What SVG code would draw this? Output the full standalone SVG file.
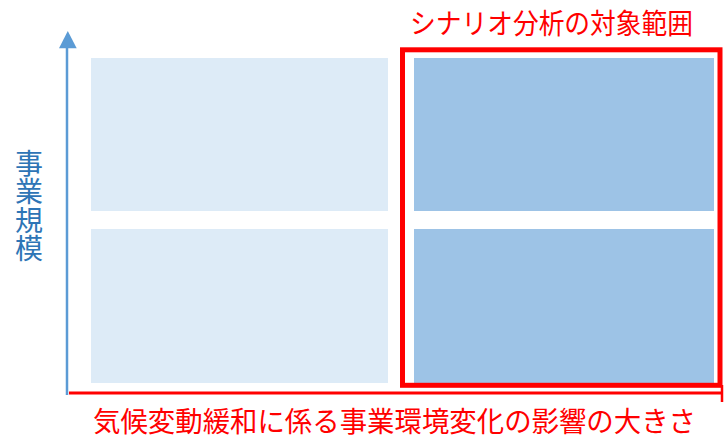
<svg xmlns="http://www.w3.org/2000/svg" width="725" height="436" viewBox="0 0 725 436">
<style>
.light{fill:#DDEBF7}
.dark{fill:#9DC3E6}
.red{fill:#FF0000;font-family:"Noto Sans CJK JP","Noto Sans",sans-serif}
.ylab{fill:#2E75B6;font-family:"Noto Sans CJK JP","Noto Sans",sans-serif;font-size:28px;writing-mode:vertical-rl;letter-spacing:0.5px}
</style>
<rect width="725" height="436" fill="#FFFFFF"/>
<g id="cell-top-left"><rect class="light" x="91" y="58" width="297" height="153"/></g>
<g id="cell-bottom-left"><rect class="light" x="91" y="229" width="297" height="154"/></g>
<g id="cell-top-right"><rect class="dark" x="414" y="58" width="300" height="153"/></g>
<g id="cell-bottom-right"><rect class="dark" x="414" y="229" width="300" height="154"/></g>
<g id="scope-frame"><rect x="402.5" y="49.8" width="317.5" height="335.5" fill="none" stroke="#FF0000" stroke-width="5"/></g>
<g id="connectors">
<line x1="67" y1="395" x2="67" y2="46" stroke="#5B9BD5" stroke-width="2.5"/>
<polygon points="67.8,31 59,48.3 76.7,48.3" fill="#5B9BD5"/>
<line x1="69" y1="393" x2="723" y2="393" stroke="#FF0000" stroke-width="3"/>
<line x1="722" y1="385" x2="722" y2="402" stroke="#FF0000" stroke-width="2.5"/>
</g>
<g id="scope-label"><text class="red" x="410" y="34" font-size="28" textLength="283" lengthAdjust="spacingAndGlyphs">シナリオ分析の対象範囲</text></g>
<g id="x-label"><text class="red" x="93" y="432" font-size="28" textLength="603" lengthAdjust="spacingAndGlyphs">気候変動緩和に係る事業環境変化の影響の大きさ</text></g>
<g id="y-label"><text class="ylab" x="29" y="149">事業規模</text></g>
</svg>
